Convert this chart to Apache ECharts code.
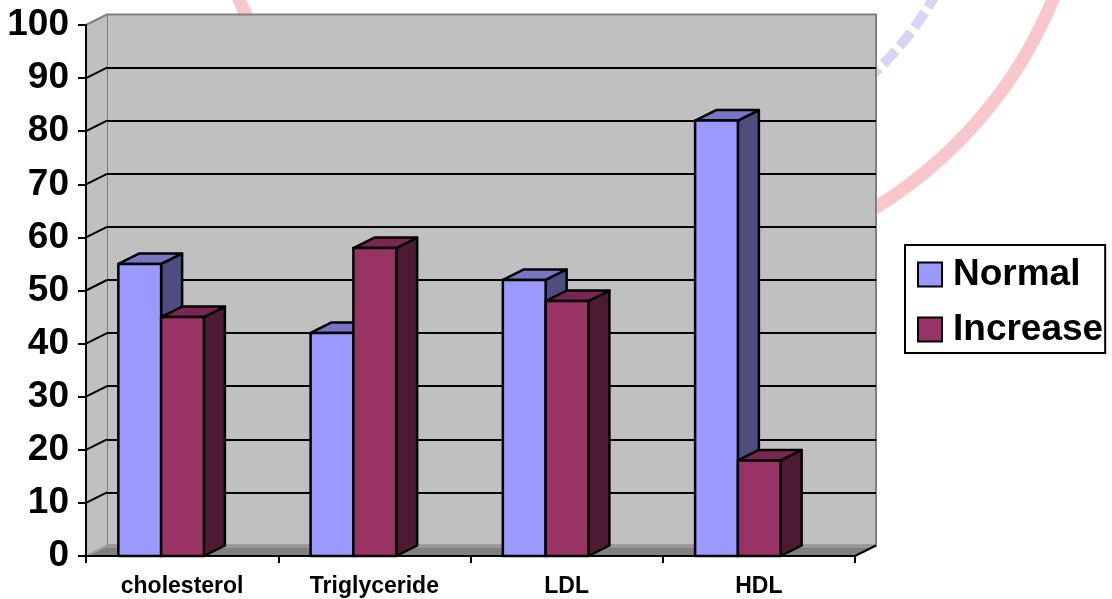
<!DOCTYPE html>
<html>
<head>
<meta charset="utf-8">
<title>Lipid profile</title>
<script src="https://cdn.jsdelivr.net/npm/echarts@6/dist/echarts.min.js"></script>
<style>
  html, body { margin: 0; padding: 0; background: #ffffff; }
  #chart { width: 1112px; height: 599px; }
</style>
</head>
<body>
<div id="chart"></div>
<script>
// ---- data ----
const categories = ['cholesterol', 'Triglyceride', 'LDL', 'HDL'];
const seriesNames = ['Normal', 'Increase'];
const normalValues = [55, 42, 52, 82];
const increaseValues = [45, 58, 48, 18];
const yMin = 0;
const yMax = 100;
const yStep = 10;

// ---- look ----
const FONT = '"Liberation Sans", Arial, sans-serif';
const DX = 21;      // depth offset of the 3D box, x
const DY = -10.5;   // depth offset of the 3D box, y
const BAR_FRAC = 0.2225;
const palettes = [
  { front: '#9999FF', top: '#7676C4', side: '#4D4D80' },
  { front: '#993366', top: '#782850', side: '#4D1A33' }
];

const chart = echarts.init(document.getElementById('chart'), null, { renderer: 'canvas' });

// side wall, floor and the slanted tick lines, placed from the front axes
function renderWalls(params, api) {
  const cs = params.coordSys;
  const L = cs.x, R = cs.x + cs.width, T = cs.y, B = cs.y + cs.height;
  const children = [];
  children.push({
    type: 'polygon',
    shape: { points: [[L, B], [L + DX, B + DY], [L + DX, T + DY], [L, T]] },
    style: { fill: '#C0C0C0' }
  });
  children.push({
    type: 'line',
    shape: { x1: L, y1: T, x2: L + DX, y2: T + DY },
    style: { stroke: '#808080', lineWidth: 2 }
  });
  for (let v = yMin + yStep; v < yMax; v += yStep) {
    const y = api.coord([0, v])[1];
    children.push({
      type: 'line',
      shape: { x1: L, y1: y, x2: L + DX, y2: y + DY },
      style: { stroke: '#000', lineWidth: 2 }
    });
  }
  children.push({
    type: 'polygon',
    shape: { points: [[L, B], [R, B], [R + DX, B + DY], [L + DX, B + DY]] },
    style: { fill: '#808080' }
  });
  children.push({
    type: 'line',
    shape: { x1: L + DX, y1: B + DY + 1, x2: R + DX, y2: B + DY + 1 },
    style: { stroke: '#A0A0A0', lineWidth: 2 }
  });
  children.push({
    type: 'line',
    shape: { x1: L, y1: B, x2: L + DX, y2: B + DY },
    style: { stroke: '#A0A0A0', lineWidth: 2 }
  });
  children.push({
    type: 'line',
    shape: { x1: R, y1: B, x2: R + DX, y2: B + DY },
    style: { stroke: '#000', lineWidth: 2 }
  });
  return { type: 'group', children: children };
}

// one 3D column: front face, top face and right side face
function makeBarRenderer(slot, pal) {
  return function (params, api) {
    const cat = api.value(0);
    const val = api.value(1);
    const base = api.coord([cat, 0]);
    const top = api.coord([cat, val]);
    const band = api.size([1, 0])[0];
    const w = band * BAR_FRAC;
    const x0 = base[0] - DX - w + slot * w;
    const x1 = x0 + w;
    const yb = base[1];
    const yt = top[1];
    const edge = { stroke: '#000', lineWidth: 2.5, lineJoin: 'round' };
    return {
      type: 'group',
      children: [
        {
          type: 'polygon',
          shape: { points: [[x1, yb], [x1 + DX, yb + DY], [x1 + DX, yt + DY], [x1, yt]] },
          style: Object.assign({ fill: pal.side }, edge)
        },
        {
          type: 'polygon',
          shape: { points: [[x0, yt], [x1, yt], [x1 + DX, yt + DY], [x0 + DX, yt + DY]] },
          style: Object.assign({ fill: pal.top }, edge)
        },
        {
          type: 'rect',
          shape: { x: x0, y: yt, width: w, height: yb - yt },
          style: Object.assign({ fill: pal.front }, edge)
        }
      ]
    };
  };
}

const option = {
  animation: false,
  backgroundColor: '#ffffff',
  graphic: [
    {
      type: 'circle',
      z: -10,
      silent: true,
      shape: { cx: 646, cy: -168, r: 440 },
      style: { fill: 'none', stroke: '#F9C6CC', lineWidth: 13 }
    },
    {
      type: 'arc',
      z: -10,
      silent: true,
      shape: { cx: 646, cy: -168, r: 332, startAngle: Math.PI * 0.16, endAngle: Math.PI * 0.29 },
      style: { fill: 'none', stroke: '#D6D6F4', lineWidth: 10, lineDash: [18, 6] }
    }
  ],
  legend: {
    orient: 'vertical',
    left: 905,
    top: 245,
    padding: [11, 2, 5, 12],
    itemGap: 18,
    itemWidth: 24,
    itemHeight: 24,
    selectedMode: false,
    backgroundColor: '#ffffff',
    borderColor: '#000',
    borderWidth: 2,
    borderRadius: 0,
    textStyle: {
      fontFamily: FONT,
      fontSize: 37,
      fontWeight: 'bold',
      color: '#000',
      padding: [0, 0, 0, 6]
    },
    data: [
      { name: seriesNames[0], icon: 'rect', itemStyle: { color: palettes[0].front, borderColor: '#000', borderWidth: 2 } },
      { name: seriesNames[1], icon: 'rect', itemStyle: { color: palettes[1].front, borderColor: '#000', borderWidth: 2 } }
    ]
  },
  grid: [
    { left: 86, top: 25, width: 769, height: 531, show: false },
    {
      left: 86 + DX, top: 25 + DY, width: 769, height: 531, show: true,
      backgroundColor: '#C0C0C0', borderColor: '#808080', borderWidth: 2
    }
  ],
  xAxis: [
    {
      type: 'category',
      gridIndex: 0,
      data: categories,
      z: 5,
      axisLine: { show: true, lineStyle: { color: '#000', width: 2 } },
      axisTick: { show: true, length: 7, lineStyle: { color: '#000', width: 2 } },
      axisLabel: {
        margin: 19,
        fontFamily: FONT,
        fontSize: 23,
        fontWeight: 'bold',
        color: '#000'
      },
      splitLine: { show: false }
    },
    {
      type: 'category',
      gridIndex: 1,
      data: categories,
      show: false
    }
  ],
  yAxis: [
    {
      type: 'value',
      gridIndex: 0,
      min: yMin,
      max: yMax,
      interval: yStep,
      z: 5,
      axisLine: { show: true, lineStyle: { color: '#000', width: 2 } },
      axisTick: { show: true, length: 8, lineStyle: { color: '#000', width: 2 } },
      axisLabel: {
        margin: 17,
        fontFamily: FONT,
        fontSize: 37,
        fontWeight: 'bold',
        color: '#000'
      },
      splitLine: { show: false }
    },
    {
      type: 'value',
      gridIndex: 1,
      min: yMin,
      max: yMax,
      interval: yStep,
      axisLine: { show: false },
      axisTick: { show: false },
      axisLabel: { show: false },
      splitLine: {
        show: true,
        showMinLine: false,
        showMaxLine: false,
        lineStyle: { color: '#000', width: 2 }
      }
    }
  ],
  series: [
    {
      type: 'custom',
      name: 'walls',
      xAxisIndex: 0,
      yAxisIndex: 0,
      silent: true,
      renderItem: renderWalls,
      data: [[0, 0]]
    },
    {
      type: 'custom',
      name: seriesNames[0],
      xAxisIndex: 0,
      yAxisIndex: 0,
      itemStyle: { color: palettes[0].front },
      encode: { x: 0, y: 1 },
      renderItem: makeBarRenderer(0, palettes[0]),
      data: normalValues.map(function (v, i) { return [i, v]; })
    },
    {
      type: 'custom',
      name: seriesNames[1],
      xAxisIndex: 0,
      yAxisIndex: 0,
      itemStyle: { color: palettes[1].front },
      encode: { x: 0, y: 1 },
      renderItem: makeBarRenderer(1, palettes[1]),
      data: increaseValues.map(function (v, i) { return [i, v]; })
    }
  ]
};

chart.setOption(option);
</script>
</body>
</html>
